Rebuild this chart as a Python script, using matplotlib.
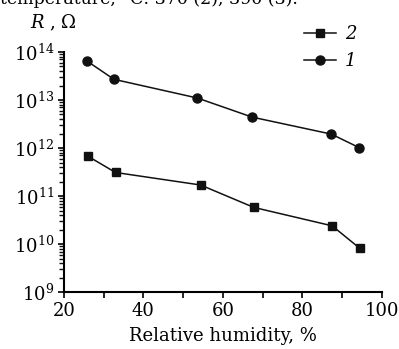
import matplotlib
matplotlib.use("Agg")
import numpy as np
import matplotlib.pyplot as plt
from matplotlib.ticker import MultipleLocator, NullFormatter

plt.rcParams["font.family"] = ["DejaVu Serif"]
plt.rcParams["mathtext.fontset"] = "dejavuserif"

# relative humidity, %
hum_1 = [25.8, 32.6, 53.6, 67.4, 87.3, 94.3]
hum_2 = [26.0, 33.0, 54.4, 67.8, 87.5, 94.5]
# resistance, Ohm
r_1 = [6.5e13, 2.7e13, 1.1e13, 4.4e12, 1.95e12, 1.02e12]
r_2 = [6.8e11, 3.1e11, 1.7e11, 5.8e10, 2.4e10, 8.1e9]

fig = plt.figure(figsize=(3.99, 3.49), dpi=100)
ax = fig.add_axes([0.160, 0.163, 0.797, 0.688])

l2, = ax.plot(hum_2, r_2, "-s", color="#111111", lw=1.1, ms=6, label="2")
l1, = ax.plot(hum_1, r_1, "-o", color="#111111", lw=1.1, ms=6.5, label="1")

ax.set_yscale("log")
ax.set_xlim(20, 100)
ax.set_ylim(1e9, 1e14)
ax.set_xticks([20, 40, 60, 80, 100])
ax.xaxis.set_minor_locator(MultipleLocator(10))
decades = 10.0 ** np.arange(9, 15)
ax.set_yticks(decades)
ax.set_yticks([m * d for d in decades[:-1] for m in range(2, 10)], minor=True)
ax.yaxis.set_minor_formatter(NullFormatter())

for s in ("top", "right"):
    ax.spines[s].set_visible(False)
for s in ("left", "bottom"):
    ax.spines[s].set_linewidth(1.5)

ax.tick_params(axis="both", which="major", labelsize=13, width=1.2, length=4, direction="out", pad=3)
ax.tick_params(axis="x", which="minor", width=1.2, length=4, direction="out")
ax.tick_params(axis="y", which="minor", width=1.0, length=3.5, direction="out", color="#111111")

ax.set_xlabel("Relative humidity, %", fontsize=13, labelpad=5)
fig.text(0.075, 0.935, r"$R$ , $\Omega$", fontsize=13, ha="left", va="center")
fig.text(0.0, 0.988, "temperature, °C: 370 (2), 390 (3).", fontsize=12.5,
         ha="left", va="baseline")

leg = fig.legend(handles=[l2, l1], labels=["2", "1"], loc="upper left",
                 bbox_to_anchor=(0.72, 0.975), frameon=False, fontsize=13,
                 handlelength=1.8, handletextpad=0.5, labelspacing=0.5)
for t in leg.get_texts():
    t.set_fontstyle("italic")

fig.savefig("out.png", dpi=100)
